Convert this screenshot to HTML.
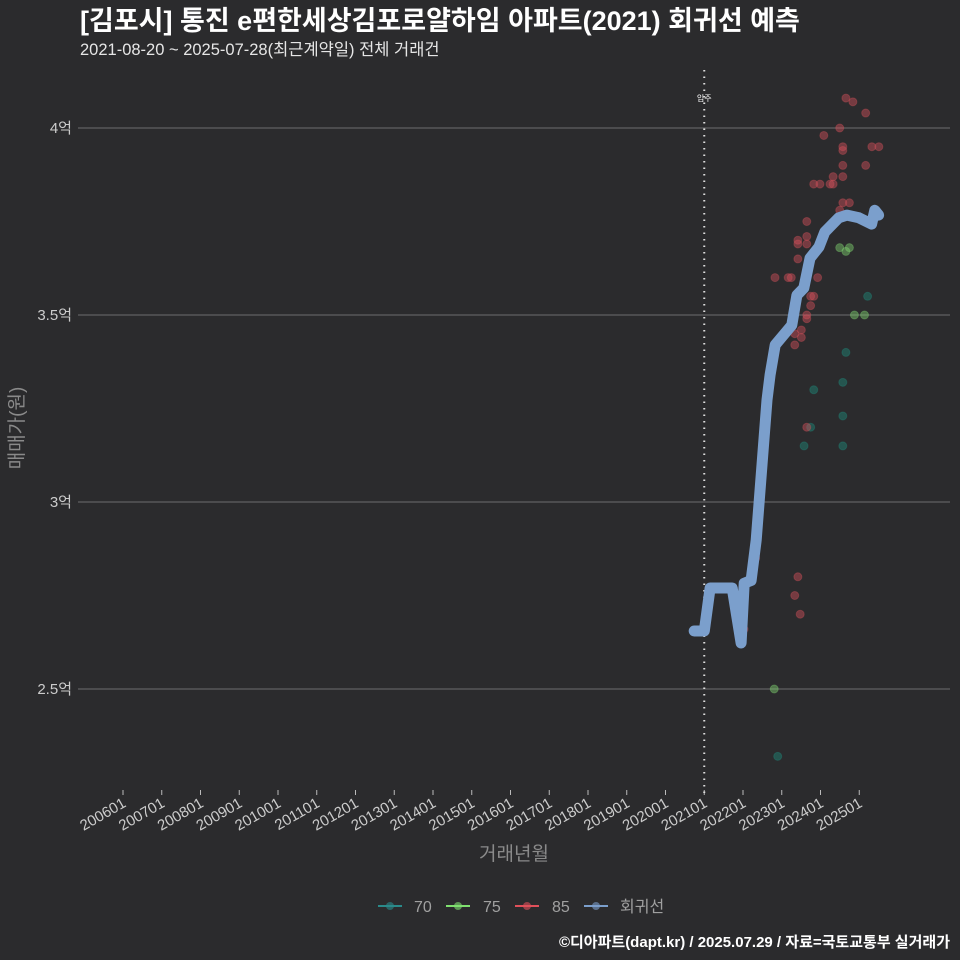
<!DOCTYPE html>
<html><head><meta charset="utf-8"><style>
html,body{margin:0;padding:0;background:#2b2b2d;}
svg{display:block;font-family:"Liberation Sans","Noto Sans CJK KR",sans-serif;}
</style></head><body>
<svg id="chart" width="960" height="960" viewBox="0 0 960 960">
<rect width="960" height="960" fill="#2b2b2d"/>
<text x="80" y="30" fill="#ffffff" font-size="27" font-weight="bold">[김포시] 통진 e편한세상김포로얄하임 아파트(2021) 회귀선 예측</text>
<text x="80" y="55" fill="#e6e6e6" font-size="16.5">2021-08-20 ~ 2025-07-28(최근계약일) 전체 거래건</text>
<g id="grid"></g>
<g id="xaxis"></g>
<g id="points"></g>
<g id="line"></g>
<text x="23" y="428" fill="#8a8a8a" font-size="19" transform="rotate(-90 23 428)" text-anchor="middle">매매가(원)</text>
<text x="514" y="860" fill="#8a8a8a" font-size="19" text-anchor="middle">거래년월</text>
<g font-size="16" fill="#a0a0a0">
 <g><line x1="378" y1="906" x2="402" y2="906" stroke="#2a8a8a" stroke-width="2"/><circle cx="390" cy="906" r="4" fill="#2a8a8a" opacity="0.6"/><text x="414" y="912">70</text></g>
 <g><line x1="446" y1="906" x2="470" y2="906" stroke="#7fe06f" stroke-width="2"/><circle cx="458" cy="906" r="4" fill="#7fe06f" opacity="0.6"/><text x="483" y="912">75</text></g>
 <g><line x1="515" y1="906" x2="539" y2="906" stroke="#e0505a" stroke-width="2"/><circle cx="527" cy="906" r="4" fill="#e0505a" opacity="0.6"/><text x="552" y="912">85</text></g>
 <g><line x1="584" y1="906" x2="608" y2="906" stroke="#7b9fcc" stroke-width="2"/><circle cx="596" cy="906" r="4" fill="#7b9fcc" opacity="0.6"/><text x="620" y="912">회귀선</text></g>
</g>
<text x="950" y="947" fill="#ffffff" font-size="15" font-weight="bold" text-anchor="end">©디아파트(dapt.kr) / 2025.07.29 / 자료=국토교통부 실거래가</text>
</svg>
<script>
const yTicks=[25000,30000,35000,40000];
const yTickLabels=["2.5억","3억","3.5억","4억"];
const xTickYears=[2006,2007,2008,2009,2010,2011,2012,2013,2014,2015,2016,2017,2018,2019,2020,2021,2022,2023,2024,2025];
const xTickLabels=["200601","200701","200801","200901","201001","201101","201201","201301","201401","201501","201601","201701","201801","201901","202001","202101","202201","202301","202401","202501"];
const moveInDate=2021.0;
const t70=[2025.19,2024.63,2024.55,2023.8,2024.55,2023.72,2023.55,2024.55,2022.87];
const v70=[35500,34000,33200,33000,32300,32000,31500,31500,23200];
const t75=[2024.47,2024.63,2024.72,2024.85,2025.11,2022.78];
const v75=[36800,36700,36800,35000,35000,25000];
const t85=[2024.63,2024.81,2025.14,2024.47,2024.06,2024.55,2024.55,2025.3,2025.48,2024.55,2025.14,2024.3,2024.55,2023.8,2023.96,2024.22,2024.3,2024.55,2024.72,2024.47,2023.62,2024.06,2024.14,2023.39,2023.62,2023.39,2023.62,2023.39,2022.8,2023.14,2023.22,2023.9,2023.8,2023.72,2023.72,2023.62,2023.62,2023.48,2023.31,2023.48,2023.31,2023.62,2022.3,2022.22,2023.39,2023.31,2023.45,2022.0];
const v85=[40800,40700,40400,40000,39800,39500,39400,39500,39500,39000,39000,38700,38700,38500,38500,38500,38500,38000,38000,37800,37500,37200,37300,37000,37100,36900,36900,36500,36000,36000,36000,36000,35500,35500,35250,35000,34900,34600,34500,34400,34200,32000,28500,28000,28000,27500,27000,26600];
const tReg=[2020.74,2021.0,2021.15,2021.72,2021.95,2022.03,2022.21,2022.34,2022.62,2022.70,2022.83,2023.09,2023.26,2023.39,2023.57,2023.73,2023.96,2024.11,2024.47,2024.68,2024.99,2025.32,2025.40,2025.50];
const vReg=[26550,26550,27700,27700,26230,27830,27900,28980,32730,33400,34200,34520,34730,35530,35720,36520,36820,37220,37600,37670,37600,37430,37800,37670];

const NS="http://www.w3.org/2000/svg";
function xS(t){return 123+(t-2006)*38.75;}
function yS(v){return 128+(40000-v)*0.0374;}
function mk(tag,attrs,parent){const e=document.createElementNS(NS,tag);for(const k in attrs)e.setAttribute(k,attrs[k]);parent.appendChild(e);return e;}
const grid=document.getElementById('grid');
yTicks.forEach((v,i)=>{
 const l=mk('line',{x1:78,x2:950,y1:yS(v),y2:yS(v),stroke:'#6e6e6e','stroke-width':1},grid);
 
 
 const tx=mk('text',{x:72,y:yS(v)+5,fill:'#cccccc','font-size':15,'text-anchor':'end'},grid);
 tx.textContent=yTickLabels[i];
 
 
});
const xa=document.getElementById('xaxis');
xTickYears.forEach((yr,i)=>{
 const x=xS(yr);
 const tk=mk('line',{x1:x,x2:x,y1:790,y2:795,stroke:'#bbbbbb','stroke-width':1},xa);
 
 
 const tx=mk('text',{x:x+4,y:806,fill:'#cccccc','font-size':15,'text-anchor':'end',transform:`rotate(-30 ${x+4} 806)`},xa);
 tx.textContent=xTickLabels[i];
 
 
});
const mv=mk('line',{x1:xS(moveInDate),x2:xS(moveInDate),y1:70,y2:795,stroke:'#dddddd','stroke-width':2,'stroke-dasharray':'1.5 5'},xa);


const ml=mk('text',{x:xS(moveInDate),y:101,fill:'#ffffff','font-size':8,'text-anchor':'middle'},xa);
ml.textContent='입주';


const pts=document.getElementById('points');
function series(ts,vs,color,name){ts.forEach((t,i)=>{
 const c=mk('circle',{cx:xS(t)+1,cy:yS(vs[i]),r:4,fill:color,'fill-opacity':0.45,stroke:color,'stroke-opacity':0.35},pts);
 
 
});}
series(t70,v70,'#1f8a7a','point-70');
series(t75,v75,'#7fd06f','point-75');
series(t85,v85,'#d0505a','point-85');
const d=tReg.map((t,i)=>(i?'L':'M')+xS(t).toFixed(1)+' '+yS(vReg[i]).toFixed(1)).join(' ');
const p=mk('path',{d:d,fill:'none',stroke:'#7b9fcc','stroke-width':11,'stroke-linejoin':'round','stroke-linecap':'round'},document.getElementById('line'));


</script>
</body></html>
